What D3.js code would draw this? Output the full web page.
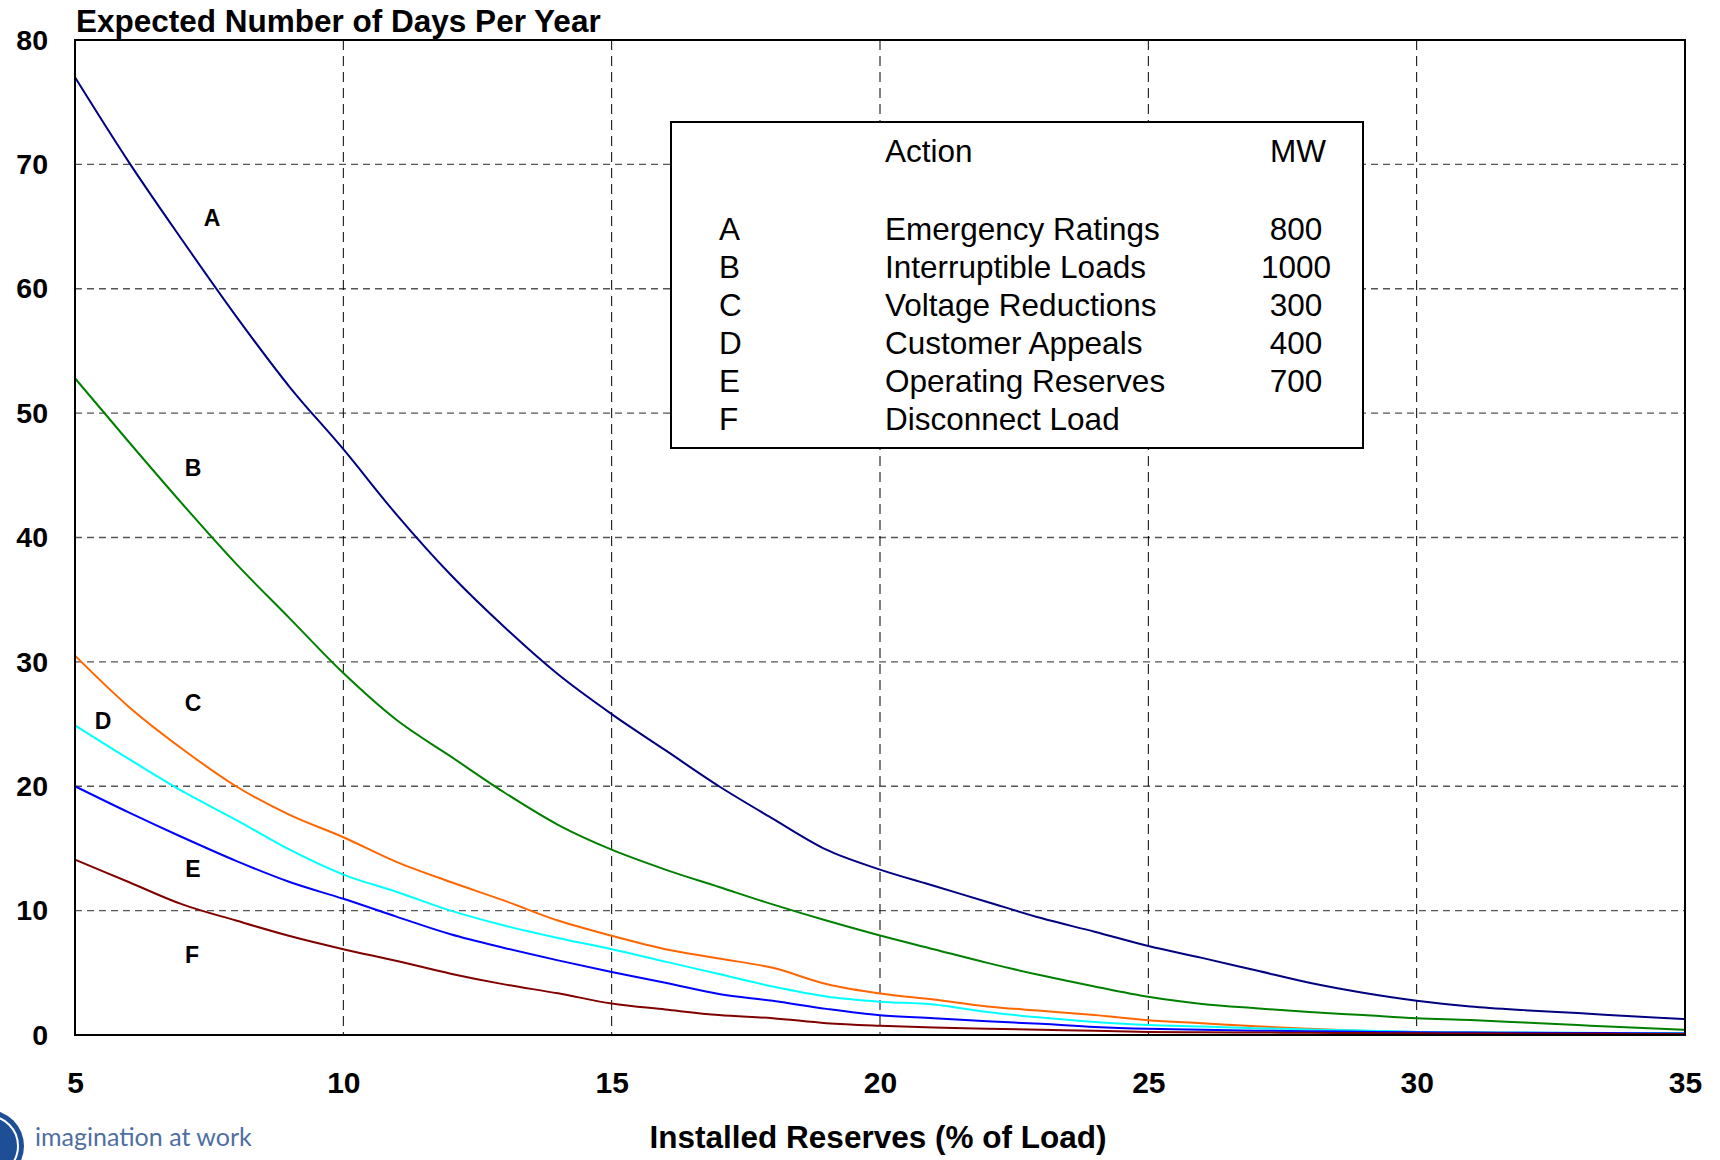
<!DOCTYPE html>
<html>
<head>
<meta charset="utf-8">
<script src="https://cdn.jsdelivr.net/npm/d3@7"></script>
<style>
  body { margin: 0; background: #fff; }
  text { font-family: "Liberation Sans", Arial, sans-serif; }
</style>
</head>
<body>
<div id="chart"></div>
<script>
var reserves = [5, 6, 7, 8, 9, 10, 11, 12, 13, 14, 15, 16, 17, 18, 19, 20,
  21, 22, 23, 24, 25, 26, 27, 28, 29, 30, 31, 32, 33, 34, 35];

var seriesA = [77.0, 70.2, 63.9, 57.8, 52.1, 47.1, 41.8, 37.0, 32.8, 29.0, 25.8, 22.9, 20.0, 17.4, 14.9, 13.3,
  12.0, 10.7, 9.4, 8.3, 7.15, 6.2, 5.2, 4.2, 3.4, 2.76, 2.3, 2.0, 1.76, 1.51, 1.27];
var seriesB = [52.8, 47.7, 42.7, 37.9, 33.5, 29.1, 25.3, 22.4, 19.5, 16.9, 14.9, 13.3, 11.9, 10.5, 9.2, 8.0,
  6.9, 5.8, 4.8, 3.9, 3.07, 2.5, 2.15, 1.85, 1.6, 1.34, 1.2, 1.0, 0.8, 0.6, 0.42];
var seriesC = [30.5, 26.4, 23.0, 20.0, 17.7, 15.9, 13.9, 12.3, 10.8, 9.2, 7.98, 6.9, 6.15, 5.4, 4.1, 3.33,
  2.85, 2.3, 1.95, 1.6, 1.19, 0.95, 0.7, 0.5, 0.33, 0.24, 0.2, 0.17, 0.14, 0.12, 0.1];
var seriesD = [24.9, 22.2, 19.6, 17.3, 14.9, 12.9, 11.5, 10.0, 8.8, 7.8, 6.9, 5.9, 4.9, 3.9, 3.1, 2.68,
  2.45, 1.85, 1.4, 1.05, 0.8, 0.68, 0.55, 0.45, 0.36, 0.25, 0.22, 0.2, 0.18, 0.16, 0.15];
var seriesE = [20.0, 17.9, 15.9, 14.0, 12.3, 10.95, 9.5, 8.1, 7.0, 6.0, 5.06, 4.2, 3.3, 2.75, 2.1, 1.58,
  1.35, 1.1, 0.9, 0.65, 0.5, 0.42, 0.35, 0.3, 0.26, 0.22, 0.2, 0.18, 0.16, 0.15, 0.13];
var seriesF = [14.1, 12.3, 10.5, 9.2, 7.96, 6.9, 5.95, 4.93, 4.07, 3.35, 2.53, 2.05, 1.6, 1.35, 0.95, 0.74,
  0.6, 0.5, 0.42, 0.35, 0.25, 0.22, 0.2, 0.18, 0.16, 0.14, 0.12, 0.11, 0.1, 0.09, 0.08];

var seriesNames = ["A", "B", "C", "D", "E", "F"];
var seriesColors = ["#000080", "#008000", "#ff6600", "#00ffff", "#0000ff", "#800000"];

var legendActions = ["Emergency Ratings", "Interruptible Loads", "Voltage Reductions",
  "Customer Appeals", "Operating Reserves", "Disconnect Load"];
var legendMW = ["800", "1000", "300", "400", "700", ""];

var xTicks = [5, 10, 15, 20, 25, 30, 35];
var yTicks = [0, 10, 20, 30, 40, 50, 60, 70, 80];

var width = 1720, height = 1160;
var margin = { top: 40, right: 35, bottom: 125, left: 75 };
var plotW = width - margin.left - margin.right,
  plotH = height - margin.top - margin.bottom;

var svg = d3.select("#chart").append("svg")
  .attr("width", width)
  .attr("height", height);

var x = d3.scaleLinear().domain([5, 35]).range([margin.left, margin.left + plotW]);
var y = d3.scaleLinear().domain([0, 80]).range([margin.top + plotH, margin.top]);

// grid
svg.append("g").selectAll("line")
  .data(yTicks.filter(function(d) { return d > 0 && d < 80; }))
  .enter().append("line")
  .attr("x1", x(5)).attr("x2", x(35))
  .attr("y1", function(d) { return y(d); })
  .attr("y2", function(d) { return y(d); })
  .style("stroke", "#555")
  .style("stroke-width", 1.3)
  .style("stroke-dasharray", "7,5");

svg.append("g").selectAll("line")
  .data(xTicks.filter(function(d) { return d > 5 && d < 35; }))
  .enter().append("line")
  .attr("x1", function(d) { return x(d); })
  .attr("x2", function(d) { return x(d); })
  .attr("y1", y(80)).attr("y2", y(0))
  .style("stroke", "#000")
  .style("stroke-width", 1)
  .style("stroke-dasharray", "10,6");

// curves
var allSeries = [seriesA, seriesB, seriesC, seriesD, seriesE, seriesF];
var line = d3.line()
  .curve(d3.curveMonotoneX)
  .x(function(d, i) { return x(reserves[i]); })
  .y(function(d) { return y(d); });

svg.append("g").selectAll("path")
  .data(allSeries)
  .enter().append("path")
  .attr("d", line)
  .style("fill", "none")
  .style("stroke", function(d, i) { return seriesColors[i]; })
  .style("stroke-width", 2);

// frame
svg.append("rect")
  .attr("x", x(5)).attr("y", y(80))
  .attr("width", x(35) - x(5)).attr("height", y(0) - y(80))
  .style("fill", "none")
  .style("stroke", "#000")
  .style("stroke-width", 2);

// axes
var yAxis = svg.append("g")
  .attr("transform", "translate(" + x(5) + ",0)")
  .call(d3.axisLeft(y).tickValues(yTicks).tickSize(0).tickPadding(27));
yAxis.select(".domain").remove();
yAxis.selectAll("text")
  .style("font-family", "'Liberation Sans', Arial, sans-serif")
  .style("font-size", "28.5px")
  .style("font-weight", "bold")
  .style("fill", "#000");

var xAxis = svg.append("g")
  .attr("transform", "translate(0," + y(0) + ")")
  .call(d3.axisBottom(x).tickValues(xTicks).tickSize(0).tickPadding(37));
xAxis.select(".domain").remove();
xAxis.selectAll("text")
  .style("font-family", "'Liberation Sans', Arial, sans-serif")
  .style("font-size", "30px")
  .style("font-weight", "bold")
  .style("fill", "#000");

// titles
svg.append("text")
  .attr("x", 76).attr("y", 32)
  .style("font-size", "31.5px")
  .style("font-weight", "bold")
  .text("Expected Number of Days Per Year");

svg.append("text")
  .attr("x", 878).attr("y", 1148)
  .style("text-anchor", "middle")
  .style("font-size", "31.5px")
  .style("font-weight", "bold")
  .text("Installed Reserves (% of Load)");

// curve labels
var labelPos = [[212, 218], [193, 468], [193, 703], [103, 721], [193, 869], [192, 955]];
svg.append("g").selectAll("text")
  .data(seriesNames)
  .enter().append("text")
  .attr("x", function(d, i) { return labelPos[i][0]; })
  .attr("y", function(d, i) { return labelPos[i][1]; })
  .attr("dy", "0.35em")
  .style("text-anchor", "middle")
  .style("font-size", "23px")
  .style("font-weight", "bold")
  .text(function(d) { return d; });

// legend box
var legend = svg.append("g");
legend.append("rect")
  .attr("x", 671).attr("y", 122)
  .attr("width", 692).attr("height", 326)
  .style("fill", "#fff")
  .style("stroke", "#000")
  .style("stroke-width", 2);

legend.append("text").attr("x", 885).attr("y", 162)
  .style("font-size", "31.5px").text("Action");
legend.append("text").attr("x", 1298).attr("y", 162)
  .style("font-size", "31.5px").style("text-anchor", "middle").text("MW");

var rows = legend.selectAll(".row")
  .data(seriesNames)
  .enter().append("g")
  .attr("class", "row")
  .attr("transform", function(d, i) { return "translate(0," + (240 + i * 38) + ")"; });
rows.append("text").attr("x", 719)
  .style("font-size", "31.5px").text(function(d) { return d; });
rows.append("text").attr("x", 885)
  .style("font-size", "31.5px").text(function(d, i) { return legendActions[i]; });
rows.append("text").attr("x", 1296)
  .style("font-size", "31.5px").style("text-anchor", "middle")
  .text(function(d, i) { return legendMW[i]; });

// logo
var logo = svg.append("g");
logo.append("circle").attr("cx", -12).attr("cy", 1146).attr("r", 36)
  .style("fill", "#1d4e96");
logo.append("circle").attr("cx", -12).attr("cy", 1146).attr("r", 30)
  .style("fill", "none").style("stroke", "#fff").style("stroke-width", 2);
logo.append("text").attr("x", 35).attr("y", 1146)
  .style("font-family", "Lato, 'Noto Sans', sans-serif")
  .style("font-size", "25px")
  .style("fill", "#4f6fa3")
  .text("imagination at work");
</script>
</body>
</html>
